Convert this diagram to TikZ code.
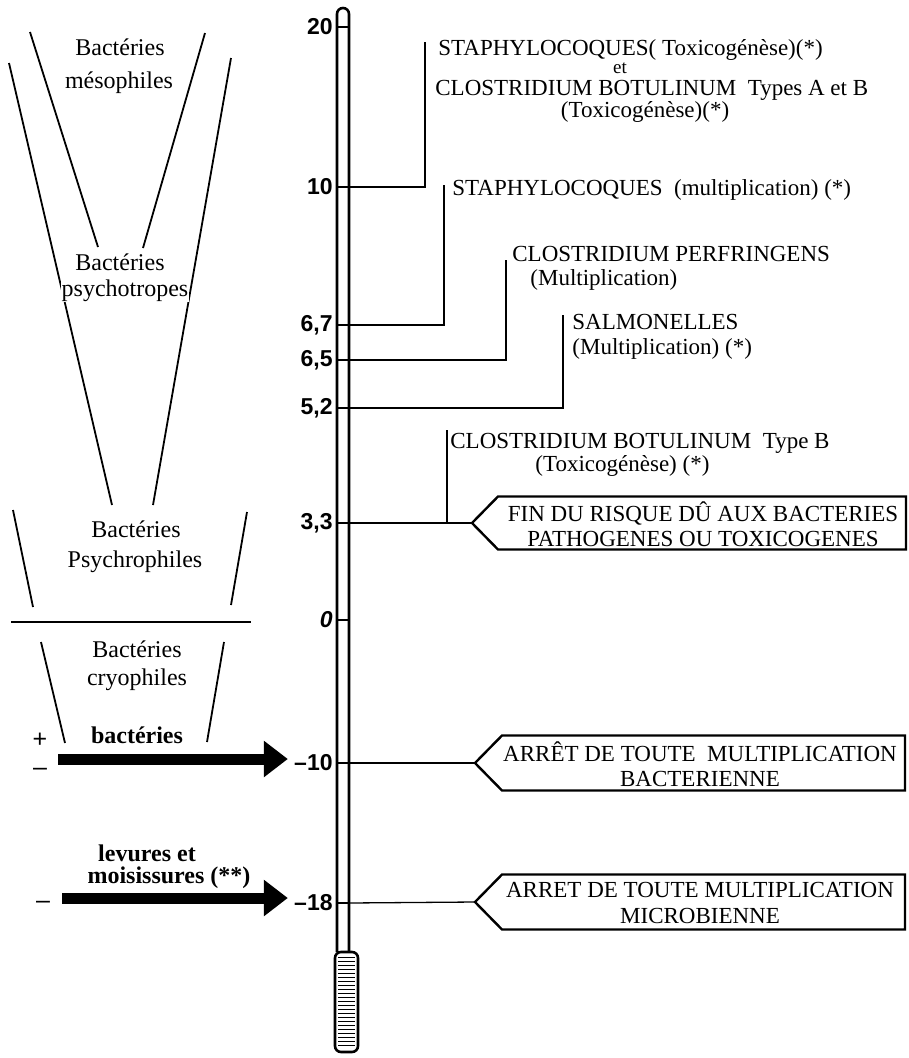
\documentclass[tikz,border=0pt]{standalone}
\usepackage{fontspec}
\setmainfont{Liberation Serif}
\newfontfamily\numfont{Liberation Sans}
\usetikzlibrary{arrows.meta, calc}

\begin{document}
\begin{tikzpicture}[x=1pt, y=-1pt, thick]
  \useasboundingbox (0,0) rectangle (909,1058);
  \tikzset{
    wall/.style={line width=2.6pt},
    link/.style={line width=1.3pt},
    zone/.style={line width=1.8pt},
    pent/.style={line width=2.4pt, line join=miter},
    lbl/.style={font=\fontsize{24}{26}\selectfont, anchor=base, inner sep=1pt},
    sign/.style={font=\numfont\fontsize{25}{27}\selectfont, anchor=base, inner sep=0pt},
    txt/.style={font=\fontsize{23}{25}\selectfont, anchor=base west, inner sep=0pt},
    boxtxt/.style={font=\fontsize{23}{25.5}\selectfont, align=center, inner sep=0pt},
    num/.style={font=\numfont\bfseries\fontsize{23}{25}\selectfont, anchor=east, inner sep=0pt},
    fat/.style={line width=11pt, -{Triangle[length=24pt, width=35pt]}},
  }

  % thermometer
  \coordinate (TL) at (337,14);
  \coordinate (BL) at (337,952);
  \coordinate (BR) at (349,952);
  \draw[wall] (BL) -- (TL) arc (180:360:6) -- (BR);
  \draw[wall, rounded corners=6pt] (335,952) rectangle (358,1052);
  \foreach \y in {957,961,...,1047}
    \draw[line width=0.9pt] (338,\y) -- (355,\y);

  % graduations
  \foreach \y/\t [count=\i] in {27/20, 187/10, 325/{6,7}, 360/{6,5}, 408/{5,2},
      523/{3,3}, 620/{\textit{0}}, 763/{–10}, 903/{–18}} {
    \node[num] (n\i) at (333,\y) {\t};
    \coordinate (k\i) at (349,\y);
    \draw[link] (337,\y) -- (k\i);
  }

  % bracket connectors
  \coordinate (c2) at (425,42);
  \coordinate (c3) at (444,185);
  \coordinate (c4) at (506,260);
  \coordinate (c5) at (563,315);
  \draw[link] (k2) -| (c2);
  \draw[link] (k3) -| (c3);
  \draw[link] (k4) -| (c4);
  \draw[link] (k5) -| (c5);

  % pointed boxes
  \coordinate (tip1) at (472,523);
  \coordinate (tip2) at (475,763);
  \coordinate (tip3) at (475,902);
  \coordinate (c6) at (447,430);
  \coordinate (c6b) at (447,523);
  \draw[link] (k6) -- (tip1);
  \draw[link] (c6) -- (c6b);
  \draw[link] (k8) -- (tip2);
  \draw[link] (k9) -- (tip3);
  \draw[pent] (tip1) -- ++(26,-26.5) -- ++(408,0) -- ++(0,53) -- ++(-408,0) -- cycle;
  \draw[pent] (tip2) -- ++(27,-27.5) -- ++(403,0) -- ++(0,55) -- ++(-403,0) -- cycle;
  \draw[pent] (tip3) -- ++(27,-27.5) -- ++(403,0) -- ++(0,55) -- ++(-403,0) -- cycle;
  \node[boxtxt] (b1) at (703,524) {FIN DU RISQUE DÛ AUX BACTERIES\\PATHOGENES OU TOXICOGENES};
  \node[boxtxt] (b2) at (700,764) {ARRÊT DE TOUTE\ \ MULTIPLICATION\\BACTERIENNE};
  \node[boxtxt] (b3) at (700,903) {ARRET DE TOUTE MULTIPLICATION\\MICROBIENNE};

  % texts along the scale
  \node[txt] (r1) at (438,55) {STAPHYLOCOQUES( Toxicogénèse)(*)};
  \node[txt, anchor=base, font=\fontsize{19}{21}\selectfont] (r2) at (620,73) {et};
  \node[txt] (r3) at (435,95) {CLOSTRIDIUM BOTULINUM\ \ Types A et B};
  \node[txt, anchor=base] (r4) at (645,117) {(Toxicogénèse)(*)};
  \node[txt] (r5) at (452,195) {STAPHYLOCOQUES\ \ (multiplication) (*)};
  \node[txt] (r6) at (512,261) {CLOSTRIDIUM PERFRINGENS};
  \node[txt] (r7) at (530,285) {(Multiplication)};
  \node[txt] (r8) at (572,329) {SALMONELLES};
  \node[txt] (r9) at (572,354) {(Multiplication) (*)};
  \node[txt] (r10) at (450,448) {CLOSTRIDIUM BOTULINUM\ \ Type B};
  \node[txt] (r11) at (535,471) {(Toxicogénèse) (*)};

  % bacteria zones
  \draw[zone] (30,32) -- (98,247);
  \draw[zone] (205,33) -- (143,248);
  \draw[zone] (9,63) -- (112,505);
  \draw[zone] (231,58) -- (153,505);
  \draw[zone] (13,510) -- (33,607);
  \draw[zone] (247,512) -- (231,605);
  \draw[zone] (11,622) -- (251,622);
  \draw[zone] (41,642) -- (65,743);
  \draw[zone] (224,642) -- (207,742);

  \node[lbl] (z1) at (120,55) {Bactéries};
  \node[lbl] (z2) at (119,88) {mésophiles};
  \node[lbl, fill=white] (z3) at (120,270) {Bactéries};
  \node[lbl, fill=white] (z4) at (125,296) {psychotropes};
  \node[lbl] (z5) at (136,537) {Bactéries};
  \node[lbl] (z6) at (135,567) {Psychrophiles};
  \node[lbl] (z7) at (137,657) {Bactéries};
  \node[lbl] (z8) at (137,685) {cryophiles};

  % arrows
  \coordinate (a1) at (58,759);
  \coordinate (a2) at (62,898);
  \draw[fat] (a1) -- ($(n8.west)+(-6,-4)$);
  \draw[fat] (a2) -- ($(n9.west)+(-6,-5)$);
  \node[lbl, font=\bfseries\fontsize{24}{26}\selectfont] (m1) at (137,743) {bactéries};
  \node[lbl, font=\bfseries\fontsize{24}{26}\selectfont] (m2) at (147,861) {levures et};
  \node[lbl, font=\bfseries\fontsize{24}{26}\selectfont] (m3) at (169,883) {moisissures (**)};
  \node[sign] (p1) at (40,747) {+};
  \node[sign] (p2) at (40,775) {–};
  \node[sign] (p3) at (43,908) {–};
\end{tikzpicture}
\end{document}
